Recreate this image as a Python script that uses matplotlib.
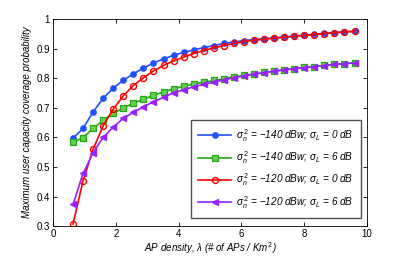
import numpy as np
import matplotlib
matplotlib.use('Agg')
import matplotlib.pyplot as plt

plt.rcParams['font.family'] = ['Liberation Sans', 'DejaVu Sans']
plt.rcParams['mathtext.fontset'] = 'custom'
plt.rcParams['mathtext.it'] = 'Liberation Sans:italic'
plt.rcParams['mathtext.rm'] = 'Liberation Sans'

# AP density values (# of APs / Km^2)
density = [0.64, 0.96, 1.28, 1.60, 1.92, 2.24, 2.56, 2.88, 3.20, 3.52,
           3.84, 4.16, 4.48, 4.80, 5.12, 5.44, 5.76, 6.08, 6.40, 6.72,
           7.04, 7.36, 7.68, 8.00, 8.32, 8.64, 8.96, 9.28, 9.60]

cov_140_0 = [0.597, 0.630, 0.686, 0.732, 0.766, 0.793, 0.814, 0.834, 0.851, 0.865,
             0.877, 0.887, 0.895, 0.903, 0.910, 0.917, 0.922, 0.927, 0.930, 0.933,
             0.936, 0.939, 0.942, 0.945, 0.948, 0.951, 0.954, 0.956, 0.958]
cov_140_6 = [0.583, 0.599, 0.630, 0.657, 0.681, 0.699, 0.715, 0.728, 0.742, 0.753,
             0.764, 0.772, 0.780, 0.786, 0.792, 0.798, 0.804, 0.809, 0.814, 0.819,
             0.823, 0.828, 0.832, 0.836, 0.839, 0.843, 0.846, 0.849, 0.852]
cov_120_0 = [0.307, 0.453, 0.560, 0.639, 0.695, 0.740, 0.775, 0.801, 0.824, 0.843,
             0.858, 0.871, 0.883, 0.893, 0.902, 0.910, 0.917, 0.923, 0.928, 0.931,
             0.935, 0.938, 0.941, 0.944, 0.947, 0.950, 0.953, 0.956, 0.958]
cov_120_6 = [0.373, 0.478, 0.548, 0.600, 0.634, 0.664, 0.684, 0.703, 0.720, 0.735,
             0.751, 0.760, 0.771, 0.779, 0.787, 0.794, 0.802, 0.807, 0.813, 0.818,
             0.823, 0.828, 0.832, 0.835, 0.839, 0.842, 0.846, 0.849, 0.851]

labels = [r'$\sigma_n^{\,2}$ = $-$140 dBw; $\sigma_L$ = 0 dB',
          r'$\sigma_n^{\,2}$ = $-$140 dBw; $\sigma_L$ = 6 dB',
          r'$\sigma_n^{\,2}$ = $-$120 dBw; $\sigma_L$ = 0 dB',
          r'$\sigma_n^{\,2}$ = $-$120 dBw; $\sigma_L$ = 6 dB']

fig = plt.figure(figsize=(4.07, 2.59), dpi=100)
ax = fig.add_axes([0.130, 0.127, 0.772, 0.800])

ax.plot(density, cov_140_0, color='#2050ff', marker='o', markersize=3.8, lw=1.2,
        label=labels[0])
ax.plot(density, cov_140_6, color='#22aa10', marker='s', markersize=3.8, lw=1.2,
        markerfacecolor='#66cc55', markeredgewidth=0.9, label=labels[1])
ax.plot(density, cov_120_0, color='#ff0000', marker='o', markersize=4.3, lw=1.2,
        markerfacecolor='none', markeredgewidth=1.0, label=labels[2])
ax.plot(density, cov_120_6, color='#9a22ff', marker='<', markersize=4.8, lw=1.2,
        label=labels[3])

ax.set_xlim(0, 10)
ax.set_ylim(0.3, 1.0)
ax.set_xticks([0, 2, 4, 6, 8, 10])
ax.set_yticks([0.3, 0.4, 0.5, 0.6, 0.7, 0.8, 0.9, 1.0])
ax.set_yticklabels(['0.3', '0.4', '0.5', '0.6', '0.7', '0.8', '0.9', '1'])
ax.tick_params(direction='in', top=True, right=True, length=3, width=0.6,
               labelsize=7, pad=2)
for s in ax.spines.values():
    s.set_linewidth(0.6)

ax.set_xlabel(r'AP density, $\lambda$ (# of APs / Km$^{\,2}$)', fontsize=7,
              style='italic', labelpad=1)
ax.set_ylabel('Maximum user capacity coverage probability', fontsize=7,
              style='italic', labelpad=3)

leg = ax.legend(loc='lower right', bbox_to_anchor=(0.995, 0.016),
                frameon=True, fancybox=False, edgecolor='#222222',
                handlelength=3.3, borderpad=0.7, labelspacing=0.55,
                handletextpad=0.5, prop={'style': 'italic', 'size': 7.2})
leg.get_frame().set_linewidth(1.0)

plt.savefig('out.png', dpi=100)
